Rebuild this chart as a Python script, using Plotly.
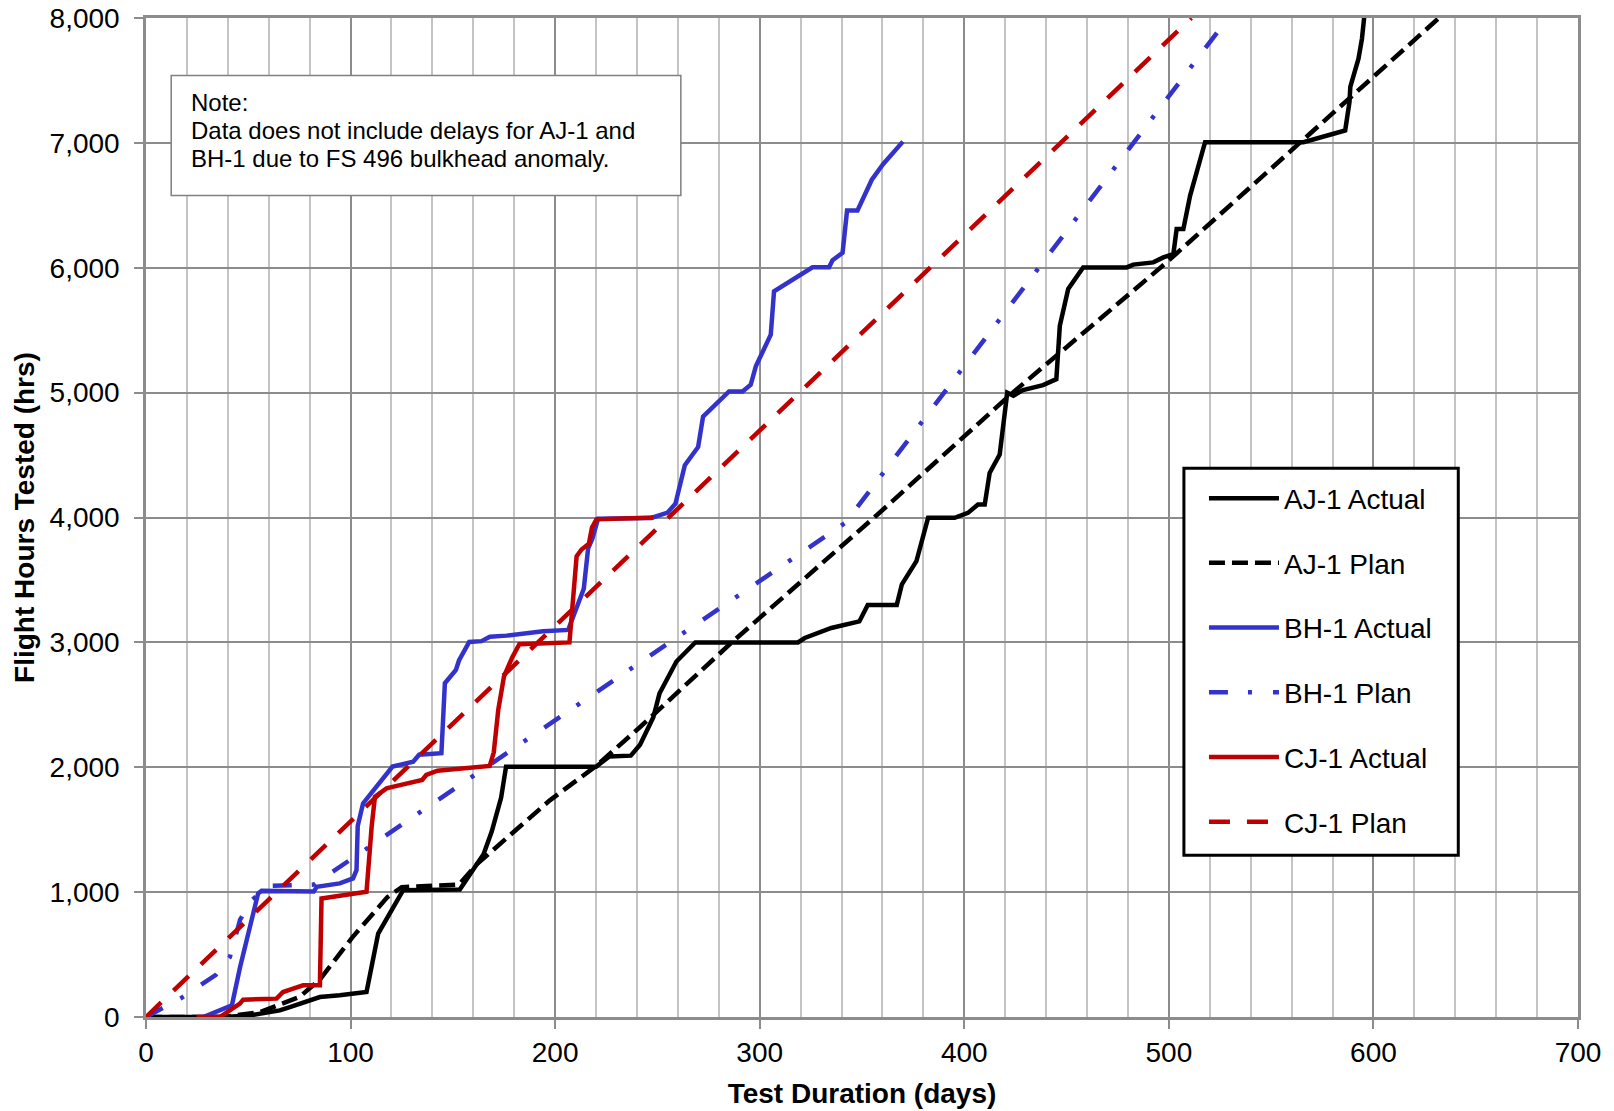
import plotly.graph_objects as go

# ---------------- data (days, flight hours) ----------------
aj1_actual_days = [0, 38, 50.8, 65.4, 70.3, 81.7, 85, 94.7, 107.8, 113.5, 124, 125.7, 153.4, 160, 165, 169, 173.6, 176,
                   220, 226.5, 237, 241.5, 248, 251, 259.3, 268.5, 318.7, 322, 335, 348.7, 352.8, 367, 369.5, 376.6,
                   382.3, 395.3, 401.8, 406.7, 410, 412.4, 417.3, 421, 424, 428.7, 438.5, 445, 446.7, 450.8, 458.1,
                   479.4, 482.6, 492.4, 497.3, 502.2, 503.8, 507.1, 510.4, 517.7, 565.8, 580.5, 586.2, 588.3, 588.7,
                   592.7, 594.4, 595.5, 596.0]
aj1_actual_hours = [0, 0, 13, 53, 80, 139, 160, 174, 200, 668, 976, 1016, 1021, 1180, 1303, 1485, 1757, 2004,
                    2004, 2087, 2093, 2180, 2400, 2590, 2847, 3000, 3000, 3035, 3115, 3168, 3300, 3300, 3465, 3650,
                    3997, 3997, 4037, 4104, 4104, 4357, 4504, 4999, 4975, 5020, 5060, 5108, 5535, 5830, 6003,
                    6003, 6025, 6043, 6083, 6110, 6311, 6311, 6578, 7006, 7006, 7073, 7100, 7328, 7448,
                    7674, 7835, 8008, 8100]

aj1_plan_days = [0, 38, 56, 75, 85, 101, 118, 125, 153, 161.5, 197.4, 220, 241.4, 286, 358, 423, 498, 564, 632]
aj1_plan_hours = [0, 0, 40, 160, 300, 640, 960, 1040, 1060, 1220, 1735, 2010, 2320, 2995, 4030, 4990, 6030, 7000, 8000]

bh1_actual_days = [28, 42, 46, 54.8, 56.5, 82, 83.5, 94.7, 101.2, 102.9, 103.5, 106.1, 120.5, 130.6, 133.5, 144.4,
                   146.1, 151.5, 153, 158, 164, 168.1, 176.2, 187.7, 194.1, 206.4, 210.8, 214, 216.1, 218.2, 221,
                   247, 255, 258.8, 263.4, 269.9, 272.3, 285, 291.6, 295.6, 298.1, 305.4, 307, 325.8, 333.9, 335.6,
                   340.5, 342.7, 347.8, 354.8, 360.3, 370]
bh1_actual_hours = [0, 94, 400, 989, 1010, 1005, 1043, 1070, 1110, 1176, 1530, 1710, 2005, 2045, 2100, 2112,
                    2673, 2780, 2855, 3004, 3010, 3045, 3054, 3078, 3089, 3100, 3295, 3430, 3750, 3830, 3990,
                    3996, 4040, 4110, 4418, 4565, 4808, 5009, 5009, 5063, 5210, 5464, 5812, 6004, 6004, 6060,
                    6119, 6458, 6458, 6705, 6829, 7010]

bh1_plan_days = [0, 17, 34, 41, 46, 52, 60, 82, 342, 529]
bh1_plan_hours = [0, 150, 335, 480, 780, 940, 1050, 1060, 3960, 8000]

cj1_actual_days = [24.7, 36.1, 45.9, 47.5, 63.8, 67, 71.9, 76.8, 85, 85.8, 107.8, 109.4, 110.3, 111.9, 117.6, 121,
                   135, 137, 142.5, 168, 170, 172.2, 175, 179, 182.5, 207, 208, 210.5, 212.9, 216.5, 218, 220.2, 248]
cj1_actual_hours = [0, 0, 107, 139, 147, 200, 227, 254, 254, 949, 1003, 1417, 1523, 1764, 1831, 1845,
                    1898, 1938, 1972, 2010, 2120, 2460, 2727, 2880, 2985, 3000, 3209, 3690, 3744, 3790, 3920, 3985, 4000]

cj1_plan_days = [0, 511]
cj1_plan_hours = [0, 8000]

series_names = ["AJ-1 Actual", "AJ-1 Plan", "BH-1 Actual", "BH-1 Plan", "CJ-1 Actual", "CJ-1 Plan"]
x_ticks = [0, 100, 200, 300, 400, 500, 600, 700]
y_ticks = [0, 1000, 2000, 3000, 4000, 5000, 6000, 7000, 8000]
note_lines = ["Note:",
              "Data does not include delays for AJ-1 and",
              "BH-1 due to FS 496 bulkhead anomaly."]

# ---------------- styling ----------------
BLACK = "#000000"
BLUE = "#3333CC"
RED = "#C00000"
FONT = "Liberation Sans, Arial, sans-serif"

styles = [
    (aj1_actual_days, aj1_actual_hours, BLACK, "solid"),
    (aj1_plan_days, aj1_plan_hours, BLACK, "16px,7px"),
    (bh1_actual_days, bh1_actual_hours, BLUE, "solid"),
    (bh1_plan_days, bh1_plan_hours, BLUE, "19px,20px,4px,21px"),
    (cj1_actual_days, cj1_actual_hours, RED, "solid"),
    (cj1_plan_days, cj1_plan_hours, RED, "21px,17px"),
]

fig = go.Figure()
for name, (xs, ys, col, dash) in zip(series_names, styles):
    fig.add_trace(go.Scatter(
        x=xs, y=ys, mode="lines", name=name, legendgroup=name,
        line=dict(color=col, width=4.5, dash=dash),
    ))

GRID_MAJOR = "#8C8C8C"
GRID_MINOR = "#C4C4C4"

# page body has an 8px default margin, so the figure is 8px smaller and margins shifted
fig.update_layout(
    width=1606, height=1103,
    margin=dict(l=138, r=36, t=10, b=94, autoexpand=False),
    paper_bgcolor="white", plot_bgcolor="white",
    font=dict(family=FONT, size=28, color="black"),
    showlegend=True,
    legend=dict(
        x=0.7388, y=0.5441, xanchor="left", yanchor="top",
        bgcolor="rgba(0,0,0,0)", borderwidth=0,
        font=dict(family=FONT, size=28, color="black"),
        itemwidth=70, tracegroupgap=25.3,
    ),
    xaxis=dict(
        range=[0, 700], tickvals=x_ticks, ticktext=[str(v) for v in x_ticks],
        automargin=False, ticklabeloverflow="allow",
        showgrid=True, gridcolor=GRID_MAJOR, gridwidth=2,
        minor=dict(dtick=20, showgrid=True, gridcolor=GRID_MINOR, gridwidth=1.5),
        showline=True, linecolor=GRID_MAJOR, linewidth=2.5, mirror=True,
        ticks="outside", ticklen=9, tickwidth=2, tickcolor=GRID_MAJOR,
        zeroline=False, ticklabelstandoff=0,
        tickfont=dict(family=FONT, size=28, color="black"),
        title=dict(text="<b>Test Duration (days)</b>", font=dict(family=FONT, size=28, color="black"), standoff=17),
    ),
    yaxis=dict(
        range=[0, 8000], tickvals=y_ticks, ticktext=[f"{v:,}" for v in y_ticks],
        automargin=False, ticklabeloverflow="allow",
        showgrid=True, gridcolor=GRID_MAJOR, gridwidth=2,
        showline=True, linecolor=GRID_MAJOR, linewidth=2.5, mirror=True,
        ticks="outside", ticklen=9, tickwidth=2, tickcolor=GRID_MAJOR,
        zeroline=False, ticklabelstandoff=9,
        tickfont=dict(family=FONT, size=28, color="black"),
        title=dict(text="<b>Flight Hours Tested (hrs)</b>", font=dict(family=FONT, size=28, color="black"), standoff=7),
    ),
)

# Legend frame
fig.add_shape(type="rect", xref="paper", yref="paper", x0=0.7248, x1=0.9164, y0=0.1619, y1=0.5493,
              line=dict(color="black", width=3), fillcolor="white", layer="above")

# Note box
fig.add_shape(type="rect", xref="paper", yref="paper", x0=0.0176, x1=0.3735, y0=0.8222, y1=0.9424,
              line=dict(color="#808080", width=1.5), fillcolor="white", layer="above")
for line_text, ypos in zip(note_lines, [0.9158, 0.8875, 0.8591]):
    fig.add_annotation(
        xref="paper", yref="paper", x=0.0297, y=ypos, xanchor="left", yanchor="middle",
        text=line_text, showarrow=False, align="left",
        font=dict(family=FONT, size=24, color="black"),
    )

fig.write_html("out.html")
